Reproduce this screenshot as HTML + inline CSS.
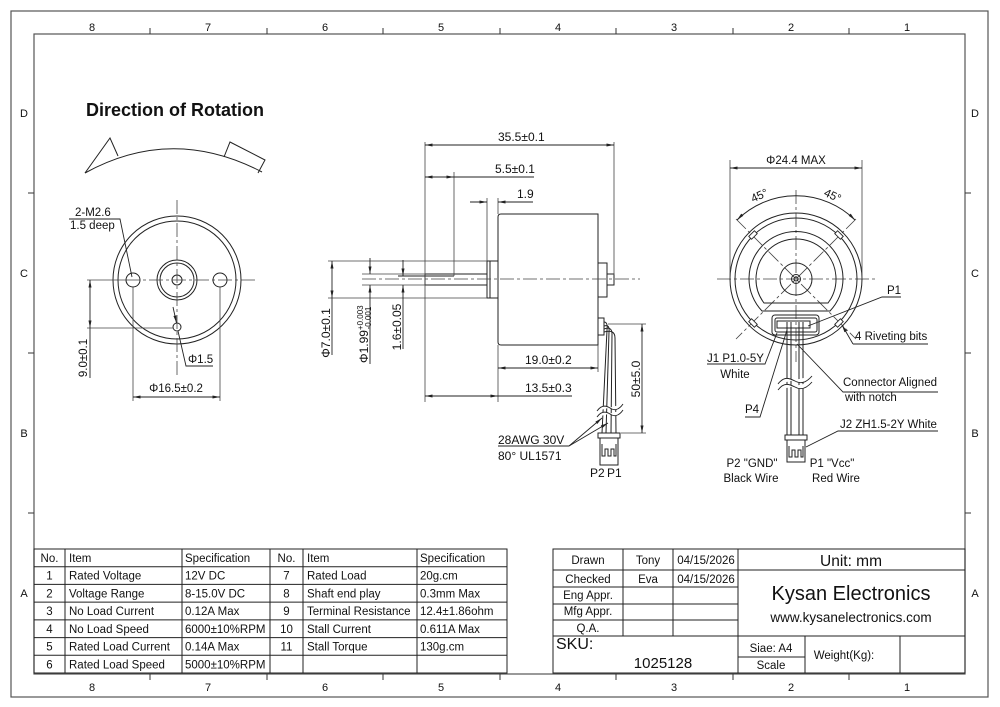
<!DOCTYPE html>
<html><head><meta charset="utf-8"><style>
html,body{margin:0;padding:0;background:#fff;}
svg{display:block;}
text{font-family:"Liberation Sans",Arial,sans-serif;fill:#111;}
</style></head><body>
<svg width="1000" height="707" viewBox="0 0 1000 707" xmlns="http://www.w3.org/2000/svg">
<defs>
<marker id="ar" viewBox="0 0 10 4" refX="10" refY="2" markerWidth="8" markerHeight="3" markerUnits="userSpaceOnUse" orient="auto-start-reverse"><path d="M0,0 L10,2 L0,4 z" fill="#222"/></marker>
</defs>
<rect width="1000" height="707" fill="#fff"/>

<!-- Borders -->
<g fill="none" stroke="#555" stroke-width="1.2">
<rect x="11" y="11" width="977" height="686"/>
<rect x="34" y="34" width="931" height="640"/>
</g>
<g stroke="#333" stroke-width="1">
<path d="M150,28V34M267,28V34M383,28V34M500,28V34M616,28V34M733,28V34M849,28V34"/>
<path d="M150,674V680M267,674V680M383,674V680M500,674V680M616,674V680M733,674V680M849,674V680"/>
<path d="M28,193H34M28,353H34M28,513H34M965,193H971M965,353H971M965,513H971"/>
</g>
<g font-size="11" text-anchor="middle">
<text x="92" y="31">8</text><text x="208" y="31">7</text><text x="325" y="31">6</text><text x="441" y="31">5</text><text x="558" y="31">4</text><text x="674" y="31">3</text><text x="791" y="31">2</text><text x="907" y="31">1</text>
<text x="92" y="691">8</text><text x="208" y="691">7</text><text x="325" y="691">6</text><text x="441" y="691">5</text><text x="558" y="691">4</text><text x="674" y="691">3</text><text x="791" y="691">2</text><text x="907" y="691">1</text>
<text x="24" y="117">D</text><text x="24" y="277">C</text><text x="24" y="437">B</text><text x="24" y="597">A</text>
<text x="975" y="117">D</text><text x="975" y="277">C</text><text x="975" y="437">B</text><text x="975" y="597">A</text>
</g>

<!-- LEFT VIEW -->
<text x="86" y="116" font-size="18" font-weight="bold">Direction of Rotation</text>
<g fill="none" stroke="#222" stroke-width="1">
<path d="M85,173 Q172,125 262,172"/>
<polyline points="85,173 110,138 118,156"/>
<polyline points="224,157 230,142 265,160 258,173"/>
<circle cx="177" cy="280" r="64"/>
<circle cx="177" cy="280" r="59"/>
<circle cx="177" cy="280" r="20"/>
<circle cx="177" cy="280" r="17"/>
<circle cx="177" cy="280" r="5"/>
<circle cx="133" cy="280" r="7"/>
<circle cx="220" cy="280" r="7"/>
<circle cx="177" cy="327" r="4"/>
</g>
<g fill="none" stroke="#444" stroke-width="0.8">
<path d="M177,200V375" stroke-dasharray="14 3 3 3"/>
<path d="M126,280H258" stroke-dasharray="14 3 3 3"/>
<path d="M87,280H126"/>
<path d="M87,328H173"/>
<path d="M133,287V401M220,287V401"/>
</g>
<g stroke="#222" stroke-width="0.9" fill="none">
<line x1="90" y1="280" x2="90" y2="328" marker-start="url(#ar)" marker-end="url(#ar)"/>
<line x1="90" y1="328" x2="90" y2="378"/>
<line x1="133" y1="397" x2="220" y2="397" marker-start="url(#ar)" marker-end="url(#ar)"/>
<path d="M69,219H120L132,277"/>
<path d="M178,331L186,366H213"/>
<line x1="173" y1="307" x2="176.5" y2="323" marker-end="url(#ar)"/>
</g>
<g font-size="11.5">
<text x="75" y="216">2-M2.6</text>
<text x="70" y="229">1.5 deep</text>
<text x="188" y="363">Φ1.5</text>
<text x="176" y="392" text-anchor="middle">Φ16.5±0.2</text>
<text transform="translate(87,358) rotate(-90)" text-anchor="middle">9.0±0.1</text>
</g>

<!-- MIDDLE VIEW -->
<g fill="none" stroke="#222" stroke-width="1">
<path d="M501,214H598V345H501Q498,345 498,342V217Q498,214 501,214Z"/>
<rect x="487" y="261" width="11" height="37"/>
<line x1="490" y1="261" x2="490" y2="298"/>
<path d="M425,274H487M425,285H487M425,274V285"/>
<path d="M398,276H454"/>
<rect x="598" y="263" width="9" height="34"/>
<rect x="607" y="274" width="7" height="11"/>
<rect x="598" y="318" width="6" height="17"/>
<path d="M604,322Q608,322 607,330L602,433"/>
<path d="M604,326Q610,324 609,332L606,433"/>
<path d="M604,329Q612,326 612,334L611,433"/>
<path d="M604,332Q615,329 615,338L616,433"/>
<rect x="598" y="433" width="22" height="5"/>
<rect x="600" y="438" width="18" height="27"/>
<polyline points="602,444 602,456 605,456 605,449 608,449 608,456 611,456 611,449 614,449 614,456 616,456 616,444"/>
</g>
<path d="M597,411c5,-7 10,-5 13,-3c4,3 9,2 13,-4M597,417c5,-7 10,-5 13,-3c4,3 9,2 13,-4" fill="#fff" stroke="#222" stroke-width="0.9"/>
<g fill="none" stroke="#444" stroke-width="0.8">
<path d="M362,279H640" stroke-dasharray="14 3 3 3"/>
<path d="M328,261H487M328,298H487M362,274H425M362,285H425"/>
<path d="M425,142V402M614,142V275M454,172V276M487,198V261M498,198V214M598,345V372M498,345V402"/>
<path d="M608,324H646M621,433H646"/>
</g>
<g stroke="#222" stroke-width="0.9" fill="none">
<line x1="425" y1="145" x2="614" y2="145" marker-start="url(#ar)" marker-end="url(#ar)"/>
<line x1="425" y1="177" x2="454" y2="177" marker-start="url(#ar)" marker-end="url(#ar)"/>
<line x1="454" y1="177" x2="534" y2="177"/>
<line x1="470" y1="202" x2="487" y2="202" marker-end="url(#ar)"/>
<line x1="533" y1="202" x2="498" y2="202" marker-end="url(#ar)"/>
<line x1="332" y1="261" x2="332" y2="298" marker-start="url(#ar)" marker-end="url(#ar)"/>
<line x1="332" y1="298" x2="332" y2="355"/>
<line x1="370" y1="258" x2="370" y2="274" marker-end="url(#ar)"/>
<line x1="370" y1="364" x2="370" y2="285" marker-end="url(#ar)"/>
<line x1="403" y1="260" x2="403" y2="276" marker-end="url(#ar)"/>
<line x1="403" y1="349" x2="403" y2="285" marker-end="url(#ar)"/>
<line x1="498" y1="368" x2="598" y2="368" marker-start="url(#ar)" marker-end="url(#ar)"/>
<line x1="425" y1="396" x2="498" y2="396" marker-start="url(#ar)" marker-end="url(#ar)"/>
<line x1="498" y1="396" x2="572" y2="396"/>
<line x1="642" y1="324" x2="642" y2="433" marker-start="url(#ar)" marker-end="url(#ar)"/>
<path d="M498,446H569"/>
<line x1="569" y1="446" x2="602" y2="418" marker-end="url(#ar)"/>
<line x1="569" y1="446" x2="608" y2="423" marker-end="url(#ar)"/>
</g>
<g font-size="12">
<text x="498" y="141">35.5±0.1</text>
<text x="495" y="173">5.5±0.1</text>
<text x="517" y="198">1.9</text>
<text x="525" y="364">19.0±0.2</text>
<text x="525" y="392">13.5±0.3</text>
<text transform="translate(330,333) rotate(-90)" text-anchor="middle">Φ7.0±0.1</text>
<text transform="translate(368,363) rotate(-90)">Φ1.99<tspan font-size="8" dy="-5">+0.003</tspan><tspan font-size="8" dx="-24" dy="8">-0.001</tspan></text>
<text transform="translate(401,327) rotate(-90)" text-anchor="middle">1.6±0.05</text>
<text transform="translate(640,379) rotate(-90)" text-anchor="middle">50±5.0</text>
<text x="498" y="444">28AWG  30V</text>
<text x="498" y="460">80°  UL1571</text>
<text x="590" y="477">P2</text>
<text x="607" y="477">P1</text>
</g>

<!-- RIGHT VIEW -->
<g fill="none" stroke="#444" stroke-width="0.8" stroke-dasharray="14 3 3 3">
<path d="M717,279H877M796,190V362"/>
<path d="M736,219L856,339M856,219L736,339"/>
</g>
<g fill="none" stroke="#222" stroke-width="1">
<circle cx="796" cy="279" r="66"/>
<circle cx="796" cy="279" r="61"/>
<path d="M762,311A47,47 0 1 1 830,311Z"/>
<path d="M764,303A40,40 0 1 1 828,303Z"/>
<circle cx="796" cy="279" r="16"/>
<circle cx="796" cy="279" r="4.5"/>
<circle cx="796" cy="279" r="2"/>
<rect x="772" y="315" width="47" height="20" rx="3"/>
<rect x="775" y="318" width="42" height="14" rx="2"/>
<rect x="777" y="321" width="33" height="7"/>
<path d="M787,322V435M791,322V435M799,322V435M803,322V435"/>
<rect x="785" y="435" width="22" height="5"/>
<rect x="787" y="440" width="18" height="22"/>
<polyline points="789,446 789,457 792,457 792,450 795,450 795,457 798,457 798,450 801,450 801,457 803,457 803,446"/>
<path d="M737,220A84,84 0 0 1 855,220" marker-start="url(#ar)" marker-end="url(#ar)"/>
</g>
<g fill="#fff" stroke="#222" stroke-width="0.9">
<rect x="749" y="233" width="8" height="4" transform="rotate(-45 753 235)"/>
<rect x="835" y="233" width="8" height="4" transform="rotate(45 839 235)"/>
<rect x="749" y="321" width="8" height="4" transform="rotate(45 753 323)"/>
<rect x="835" y="321" width="8" height="4" transform="rotate(-45 839 323)"/>
</g>
<path d="M778,384c6,-8 11,-6 17,-3c5,3 11,2 17,-5M778,390c6,-8 11,-6 17,-3c5,3 11,2 17,-5" fill="#fff" stroke="#222" stroke-width="0.9"/>
<g fill="none" stroke="#444" stroke-width="0.8">
<path d="M730,160V279M862,160V279"/>
</g>
<g stroke="#222" stroke-width="0.9" fill="none">
<line x1="730" y1="168" x2="862" y2="168" marker-start="url(#ar)" marker-end="url(#ar)"/>
<path d="M901,297H882L808,326"/>
<path d="M928,344H853"/>
<line x1="853" y1="344" x2="842" y2="325" marker-end="url(#ar)"/>
<path d="M707,364H765L777,333"/>
<path d="M745,417H760L787,330"/>
<path d="M938,392H843L797,344"/>
<path d="M938,431H838L806,447"/>
</g>
<g font-size="11.5">
<text x="796" y="164" text-anchor="middle">Φ24.4 MAX</text>
<text transform="translate(761,199) rotate(-25)" text-anchor="middle">45°</text>
<text transform="translate(831,199) rotate(25)" text-anchor="middle">45°</text>
<text x="887" y="294">P1</text>
<text x="855" y="340">4 Riveting bits</text>
<text x="707" y="362">J1 P1.0-5Y</text>
<text x="735" y="378" text-anchor="middle">White</text>
<text x="745" y="413">P4</text>
<text x="843" y="386">Connector Aligned</text>
<text x="845" y="401">with notch</text>
<text x="840" y="428">J2 ZH1.5-2Y White</text>
<text x="752" y="467" text-anchor="middle">P2 "GND"</text>
<text x="751" y="482" text-anchor="middle">Black Wire</text>
<text x="832" y="467" text-anchor="middle">P1 "Vcc"</text>
<text x="836" y="482" text-anchor="middle">Red Wire</text>
</g>

<!-- SPEC TABLE -->
<g fill="none" stroke="#222" stroke-width="1">
<rect x="34" y="549" width="473" height="124"/>
<path d="M34,566.7H507M34,584.4H507M34,602.1H507M34,619.9H507M34,637.6H507M34,655.3H507"/>
<path d="M65,549V673M182,549V673M270,549V673M303,549V673M417,549V673"/>
</g>
<g font-size="11.5">
<text x="49.5" y="562" text-anchor="middle">No.</text><text x="69" y="562">Item</text><text x="185" y="562">Specification</text>
<text x="286.5" y="562" text-anchor="middle">No.</text><text x="307" y="562">Item</text><text x="420" y="562">Specification</text>
<text x="49.5" y="579.7" text-anchor="middle">1</text><text x="69" y="579.7">Rated Voltage</text><text x="185" y="579.7">12V DC</text>
<text x="49.5" y="597.4" text-anchor="middle">2</text><text x="69" y="597.4">Voltage Range</text><text x="185" y="597.4">8-15.0V DC</text>
<text x="49.5" y="615.1" text-anchor="middle">3</text><text x="69" y="615.1">No Load Current</text><text x="185" y="615.1">0.12A Max</text>
<text x="49.5" y="632.9" text-anchor="middle">4</text><text x="69" y="632.9">No Load Speed</text><text x="185" y="632.9">6000±10%RPM</text>
<text x="49.5" y="650.6" text-anchor="middle">5</text><text x="69" y="650.6">Rated Load Current</text><text x="185" y="650.6">0.14A Max</text>
<text x="49.5" y="668.3" text-anchor="middle">6</text><text x="69" y="668.3">Rated Load Speed</text><text x="185" y="668.3">5000±10%RPM</text>
<text x="286.5" y="579.7" text-anchor="middle">7</text><text x="307" y="579.7">Rated Load</text><text x="420" y="579.7">20g.cm</text>
<text x="286.5" y="597.4" text-anchor="middle">8</text><text x="307" y="597.4">Shaft end play</text><text x="420" y="597.4">0.3mm Max</text>
<text x="286.5" y="615.1" text-anchor="middle">9</text><text x="307" y="615.1">Terminal Resistance</text><text x="420" y="615.1">12.4±1.86ohm</text>
<text x="286.5" y="632.9" text-anchor="middle">10</text><text x="307" y="632.9">Stall Current</text><text x="420" y="632.9">0.611A Max</text>
<text x="286.5" y="650.6" text-anchor="middle">11</text><text x="307" y="650.6">Stall Torque</text><text x="420" y="650.6">130g.cm</text>
</g>

<!-- TITLE BLOCK -->
<g fill="none" stroke="#222" stroke-width="1">
<rect x="553" y="549" width="412" height="124"/>
<path d="M553,570H965M553,587H738M553,604H738M553,620H738M553,636H965M738,657H805"/>
<path d="M623,549V636M673,549V636M738,549V673M805,636V673M900,636V673"/>
</g>
<g font-size="11.5" text-anchor="middle">
<text x="588" y="564">Drawn</text><text x="648" y="564">Tony</text><text x="706" y="564">04/15/2026</text>
<text x="588" y="583">Checked</text><text x="648" y="583">Eva</text><text x="706" y="583">04/15/2026</text>
<text x="588" y="599">Eng Appr.</text>
<text x="588" y="615">Mfg Appr.</text>
<text x="588" y="632">Q.A.</text>
<text x="771" y="652">Siae: A4</text>
<text x="771" y="669">Scale</text>
<text x="844" y="659">Weight(Kg):</text>
</g>
<text x="851" y="566" font-size="15.5" text-anchor="middle">Unit: mm</text>
<text x="851" y="600" font-size="20" text-anchor="middle">Kysan Electronics</text>
<text x="851" y="622" font-size="13.5" text-anchor="middle">www.kysanelectronics.com</text>
<text x="556" y="649" font-size="16">SKU:</text>
<text x="663" y="668" font-size="15" text-anchor="middle">1025128</text>
</svg>
</body></html>
